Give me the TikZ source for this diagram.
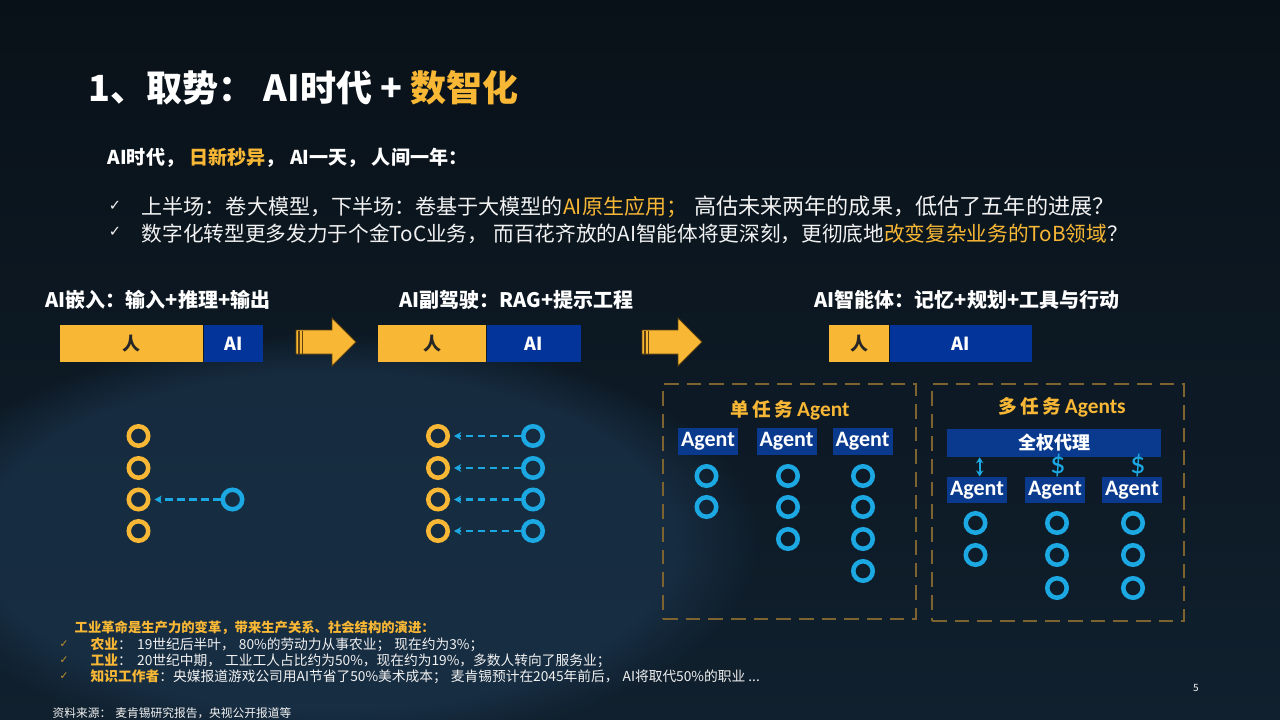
\documentclass[tikz,border=0pt]{standalone}
\usepackage{fontspec}
\setmainfont{Noto Sans CJK SC}
\newfontfamily\calib{Carlito}
\newfontfamily\dejavu{DejaVu Sans}
\usetikzlibrary{arrows.meta,fadings}
\definecolor{bgtop}{HTML}{091118}
\definecolor{bgbot}{HTML}{10202E}
\definecolor{glow}{HTML}{1E3A55}
\definecolor{gold}{HTML}{F8B735}
\definecolor{barblue}{HTML}{03349A}
\definecolor{agblue}{HTML}{0A3A8E}
\definecolor{cyanc}{HTML}{1CA8E2}
\definecolor{dashc}{HTML}{7C6330}
\definecolor{arrline}{HTML}{5A4010}
\definecolor{txtw}{HTML}{F2F2F2}
\tikzset{
  ring/.style={circle, inner sep=0pt, minimum size=14.6pt, line width=3.4pt},
  ringo/.style={ring, draw=gold},
  ringc/.style={ring, draw=cyanc},
  dasharr/.style={cyanc, line width=1.7pt, dash pattern=on 5.5pt off 3.5pt, -{Stealth[length=5.5pt,width=6pt]}},
  bar/.style={anchor=west, inner sep=0pt, minimum height=27.75pt, font=\fontsize{13.5}{15}\selectfont\bfseries},
  baro/.style={bar, fill=gold, text=black!85},
  barb/.style={bar, fill=barblue, text=white},
  agentbox/.style={fill=agblue, text=white, inner sep=0pt, minimum width=45pt, minimum height=20pt, font=\calib\bfseries\fontsize{16.5}{18}\selectfont},
  dbox/.style={draw=dashc, line width=1.8pt, dash pattern=on 11pt off 6pt, inner sep=0pt},
  head/.style={anchor=west, text=white, font=\fontsize{15}{18}\selectfont\bfseries},
  bigarrow/.style={fill=gold, draw=arrline, line width=0.6pt, line join=miter},
  tick/.style={text=txtw!85, font=\dejavu\fontsize{11}{13}\selectfont},
  btxt/.style={anchor=west, text=txtw, font=\fontsize{15.8}{18}\selectfont},
  smtxt/.style={anchor=west, text=txtw, font=\fontsize{10.3}{12}\selectfont},
  smtick/.style={text=gold!80!black, font=\dejavu\fontsize{8}{10}\selectfont},
  dollar/.style={text=cyanc, font=\calib\fontsize{23}{25}\selectfont, inner sep=0pt},
}
\begin{document}
\begin{tikzpicture}[x=0.75pt,y=-0.75pt]
\shade[top color=bgtop, bottom color=bgbot] (0,0) rectangle (1280,720);
\useasboundingbox (0,0) rectangle (1280,720);
\begin{scope}
  \clip (0,0) rectangle (1280,720);
  \fill[glow, opacity=0.55, path fading=circle with fuzzy edge 20 percent] (330,540) ellipse (430 and 210);
\end{scope}

% title
\node[anchor=west, text=white, font=\fontsize{27}{31}\selectfont\bfseries] (title) at (84,88) {1、取势：\hspace{7pt}AI时代 + \textcolor{gold}{数智化}};
\node[anchor=west, text=white, font=\fontsize{14.3}{17}\selectfont\bfseries] (sub) at (103,158) {AI时代，\hspace{4pt}\textcolor{gold}{日新秒异}，\hspace{4pt}AI一天，\hspace{4pt}人间一年：};

% bullets
\node[tick] (tk1) at (115,206) {✓};
\node[btxt] (l1) at (137,207) {上半场：卷大模型，下半场：卷基于大模型的\textcolor{gold}{AI原生应用；}\hspace{5pt}{\fontsize{16.6}{18}\selectfont 高估未来两年的成果，低估了五年的进展？}};
\node[tick] (tk2) at (115,232) {✓};
\node[btxt, font=\fontsize{15.5}{18}\selectfont] (l2) at (137,234) {数字化转型更多发力于个金ToC业务，\hspace{4pt}而百花齐放的AI智能体将更深刻，更彻底地\textcolor{gold}{改变复杂业务的ToB领域}？};

% section headings
\node[head] (h1) at (41,300) {AI嵌入：输入+推理+输出};
\node[head] (h2) at (395,300) {AI副驾驶：RAG+提示工程};
\node[head] (h3) at (810,300) {AI智能体：记忆+规划+工具与行动};

% bars
\node[baro, minimum width=107.25pt] (b1o) at (60,343.5) {人};
\node[barb, minimum width=44.25pt] (b1b) at (b1o.east) {AI};
\node[baro, minimum width=81pt] (b2o) at (378,343.5) {人};
\node[barb, minimum width=70.5pt] (b2b) at (b2o.east) {AI};
\node[baro, minimum width=45pt] (b3o) at (829,343.5) {人};
\node[barb, minimum width=106.5pt] (b3b) at (b3o.east) {AI};

% big arrows
\foreach \dx in {0,346}{
  \begin{scope}[xshift=\dx*0.75pt]
    \draw[bigarrow] (296,330) -- (332,330) -- (332,318) -- (356,342) -- (332,366) -- (332,354) -- (296,354) -- cycle;
    \draw[arrline, line width=0.8pt] (299,330.5) -- (299,353.5);
    \draw[arrline, line width=0.8pt] (302.5,330.5) -- (302.5,353.5);
  \end{scope}
}

% stage 1 circles
\node[ringo] (o11) at (138.5,436) {};
\node[ringo] (o12) at (138.5,468) {};
\node[ringo] (o13) at (138.5,499.5) {};
\node[ringo] (o14) at (138.5,531) {};
\node[ringc] (c13) at (232.5,499.5) {};
\draw[dasharr] (c13.west) -- ([xshift=3pt]o13.east);

% stage 2 circles
\foreach \i/\y in {1/436,2/468,3/499.5,4/531}{
  \node[ringo] (o2\i) at (438,\y) {};
  \node[ringc] (c2\i) at (533,\y) {};
  \draw[dasharr] (c2\i.west) -- ([xshift=3pt]o2\i.east);
}

% dashed boxes
\node[dbox, minimum width=189.75pt, minimum height=176.25pt] (box1) at (789.5,501.5) {};
\node[dbox, minimum width=189pt, minimum height=177.75pt] (box2) at (1058,502.5) {};

% box 1 content
\node[text=gold, font=\fontsize{14}{16}\selectfont\bfseries] (bt1) at (790,410) {单\hspace{2.5pt}任\hspace{2.5pt}务\hspace{3pt}{\calib\fontsize{16}{17}\selectfont Agent}};
\node[agentbox] (a11) at (708,441.5) {Agent};
\node[agentbox] (a12) at (786.5,441.5) {Agent};
\node[agentbox] (a13) at (862.5,441.5) {Agent};
\foreach \y in {476,507}{\node[ringc] at (706.5,\y) {};}
\foreach \y in {476,507,539}{\node[ringc] at (788,\y) {};}
\foreach \y in {476,507,539,571}{\node[ringc] at (863,\y) {};}

% box 2 content
\node[text=gold, font=\fontsize{14}{16}\selectfont\bfseries] (bt2) at (1062,407) {多\hspace{2.5pt}任\hspace{2.5pt}务\hspace{3pt}{\calib\fontsize{16}{17}\selectfont Agents}};
\node[fill=agblue, text=white, inner sep=0pt, minimum width=160.5pt, minimum height=21pt, font=\fontsize{13.5}{16}\selectfont\bfseries] (qq) at (1054,443) {全权代理};
\node[agentbox] (a21) at (977,490) {Agent};
\node[agentbox] (a22) at (1055,490) {Agent};
\node[agentbox] (a23) at (1132,490) {Agent};
\draw[cyanc, line width=1.4pt, {Stealth[length=4.5pt,width=5.5pt]}-{Stealth[length=4.5pt,width=5.5pt]}] ([xshift=2pt]a21.north) -- ([xshift=2pt]a21.north |- qq.south);
\node[dollar] (d2) at (1058,466) {\$};
\node[dollar] (d3) at (1138,466) {\$};
\foreach \y in {523,555}{\node[ringc] at (975.5,\y) {};}
\foreach \y in {523,555,588}{\node[ringc] at (1057,\y) {};}
\foreach \y in {523,555,588}{\node[ringc] at (1133,\y) {};}

% bottom text
\node[anchor=west, text=gold, font=\fontsize{10}{12}\selectfont\bfseries] (bh) at (70,628) {工业革命是生产力的变革，带来生产关系、社会结构的演进：};
\node[smtick] (bk1) at (64,644) {✓};
\node[smtxt] (bl1) at (86,645) {\textcolor{gold}{\bfseries 农业}：\hspace{4pt}19世纪后半叶，\hspace{3pt}80\%的劳动力从事农业；\hspace{3pt}现在约为3\%；};
\node[smtick] (bk2) at (64,660) {✓};
\node[smtxt] (bl2) at (86,661) {\textcolor{gold}{\bfseries 工业}：\hspace{4pt}20世纪中期，\hspace{3pt}工业工人占比约为50\%，现在约为19\%，多数人转向了服务业；};
\node[smtick] (bk3) at (64,676) {✓};
\node[smtxt] (bl3) at (86,677) {\textcolor{gold}{\bfseries 知识工作者}：央媒报道游戏公司用AI节省了50\%美术成本；\hspace{3pt}麦肯锡预计在2045年前后，\hspace{3pt}AI将取代50\%的职业 ...};
\node[anchor=west, text=txtw, font=\fontsize{8.8}{10}\selectfont] (src) at (48,713) {资料来源：\hspace{3pt}麦肯锡研究报告，央视公开报道等};
\node[text=txtw!80, font=\fontsize{7.5}{9}\selectfont] (pg) at (1196,688) {5};
\end{tikzpicture}
\end{document}
